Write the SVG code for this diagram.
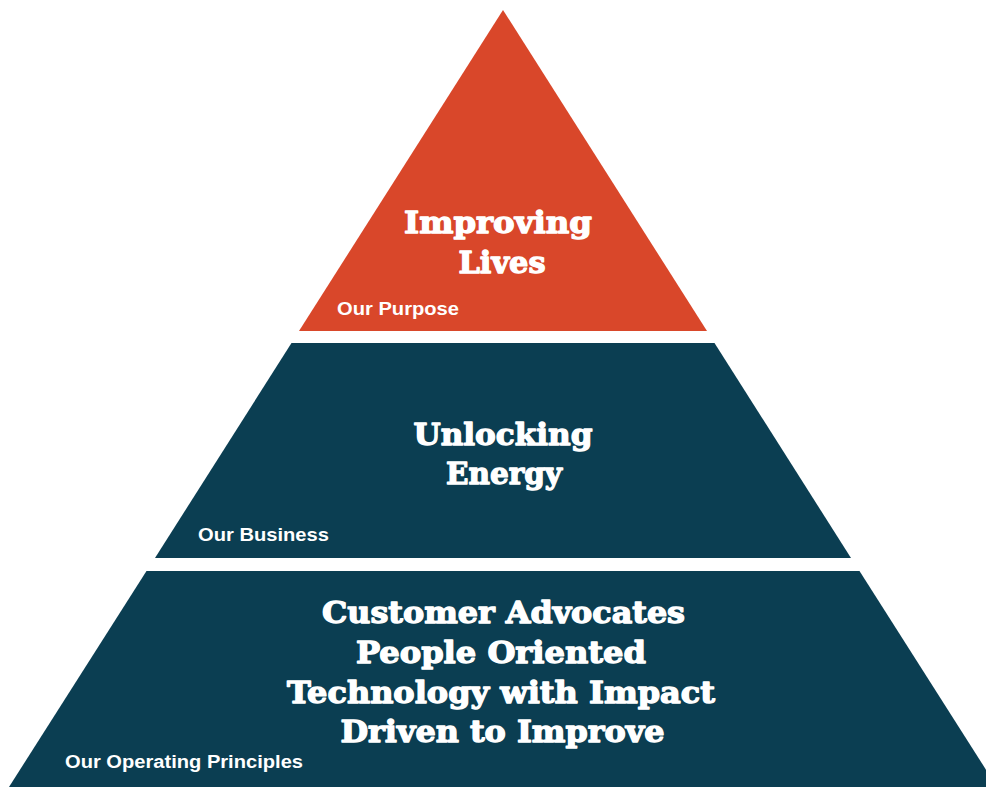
<svg xmlns="http://www.w3.org/2000/svg" width="986" height="787" viewBox="0 0 986 787">
  <style>
    .title { font-family: "DejaVu Serif", "Liberation Serif", serif; font-weight: bold; fill: #ffffff; stroke: #ffffff; stroke-width: 1.3; stroke-linejoin: round; text-anchor: middle; }
    .label { font-family: "Liberation Sans", Arial, sans-serif; font-weight: bold; fill: #ffffff; font-size: 18px; }
    .orange { fill: #D9472A; }
    .teal { fill: #0B3E52; }
  </style>
  <rect width="986" height="787" fill="#ffffff"/>
  <g id="tier-purpose">
    <polygon class="orange" points="503,10 707,331 299,331"/>
    <text class="title" x="498" y="233" font-size="30" textLength="188" lengthAdjust="spacingAndGlyphs">Improving</text>
    <text class="title" x="502" y="273" font-size="30" textLength="87" lengthAdjust="spacingAndGlyphs">Lives</text>
    <text class="label" x="337" y="315" textLength="122" lengthAdjust="spacingAndGlyphs">Our Purpose</text>
  </g>
  <g id="tier-business">
    <polygon class="teal" points="291.5,343 714.5,343 851,558 155,558"/>
    <text class="title" x="503" y="445" font-size="30" textLength="179" lengthAdjust="spacingAndGlyphs">Unlocking</text>
    <text class="title" x="504" y="484" font-size="30" textLength="116" lengthAdjust="spacingAndGlyphs">Energy</text>
    <text class="label" x="198" y="541" textLength="131" lengthAdjust="spacingAndGlyphs">Our Business</text>
  </g>
  <g id="tier-principles">
    <polygon class="teal" points="146.5,571 859.5,571 997,787 9,787"/>
    <text class="title" x="503.5" y="623" font-size="29" textLength="363" lengthAdjust="spacingAndGlyphs">Customer Advocates</text>
    <text class="title" x="501" y="663" font-size="29" textLength="290" lengthAdjust="spacingAndGlyphs">People Oriented</text>
    <text class="title" x="501" y="703" font-size="29" textLength="428" lengthAdjust="spacingAndGlyphs">Technology with Impact</text>
    <text class="title" x="502.5" y="742" font-size="29" textLength="324" lengthAdjust="spacingAndGlyphs">Driven to Improve</text>
    <text class="label" x="65" y="768" textLength="238" lengthAdjust="spacingAndGlyphs">Our Operating Principles</text>
  </g>
  <g id="connectors"/>
</svg>
